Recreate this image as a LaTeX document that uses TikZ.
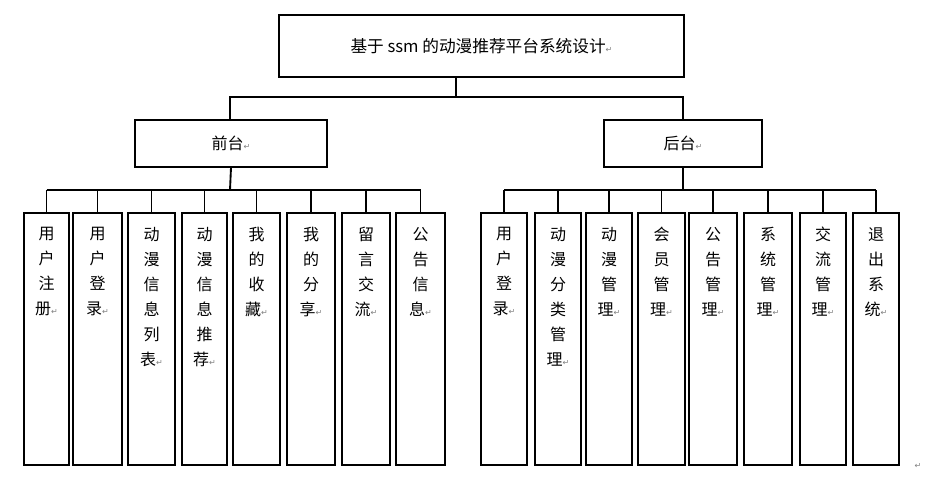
\documentclass[tikz,border=0pt]{standalone}
\usepackage{fontspec}
\setmainfont{Noto Sans CJK SC}
\newfontfamily\symf{DejaVu Sans}
\newcommand{\parmark}{{\symf\fontsize{6}{6}\selectfont\textcolor{gray}{↵}}}
\begin{document}
\begin{tikzpicture}[x=0.75pt,y=-0.75pt,
  box/.style={draw,line width=0.8pt,inner sep=0},
  leaftext/.style={anchor=north,align=center,font=\fontsize{12}{18.75}\selectfont,inner sep=0},
  link/.style={line width=0.8pt}]
\useasboundingbox (0,0) rectangle (948,486);
\fill[white] (0,0) rectangle (948,486);
\node[box,minimum width=405*0.75pt,minimum height=62*0.75pt] (root) at (481.5,46) {\fontsize{12.5}{14}\selectfont 基于 ssm 的动漫推荐平台系统设计\parmark};
\node[box,minimum width=192*0.75pt,minimum height=47*0.75pt] (fe) at (231,143.5) {\fontsize{12}{14}\selectfont 前台\parmark};
\node[box,minimum width=158*0.75pt,minimum height=47*0.75pt] (be) at (683,143.5) {\fontsize{12}{14}\selectfont 后台\parmark};
\coordinate (rs) at (456,77);
\draw[link] (rs) -- (456,97) -- (230,97) -- (230,120);
\draw[link] (456,97) -- (683,97) -- (683,120);
\foreach \i/\a/\b/\t in {1/24/69/用\\户\\注\\册\parmark, 2/73/122/用\\户\\登\\录\parmark, 3/128/175/动\\漫\\信\\息\\列\\表\parmark, 4/182/227/动\\漫\\信\\息\\推\\荐\parmark, 5/233/280/我\\的\\收\\藏\parmark, 6/287/335/我\\的\\分\\享\parmark, 7/342/390/留\\言\\交\\流\parmark, 8/396/445/公\\告\\信\\息\parmark}{
  \draw[line width=0.8pt] (\a,213) rectangle (\b,465);
  \node[leaftext] (fl\i) at ({(\a+\b)/2},227) {\t};
  \draw[link] ({(\a+\b)/2},190) -- ({(\a+\b)/2},213);
}
\draw[line width=1.4pt] (fe.south) -- (230,190);
\draw[line width=1.4pt] (46.5,190) -- (420.5,190);
\foreach \i/\a/\b/\t in {1/481/527/用\\户\\登\\录\parmark, 2/535/581/动\\漫\\分\\类\\管\\理\parmark, 3/586/632/动\\漫\\管\\理\parmark, 4/638/685/会\\员\\管\\理\parmark, 5/689/737/公\\告\\管\\理\parmark, 6/744/792/系\\统\\管\\理\parmark, 7/800/846/交\\流\\管\\理\parmark, 8/853/899/退\\出\\系\\统\parmark}{
  \draw[line width=0.8pt] (\a,213) rectangle (\b,465);
  \node[leaftext] (bl\i) at ({(\a+\b)/2},227) {\t};
  \draw[link] ({(\a+\b)/2},190) -- ({(\a+\b)/2},213);
}
\draw[line width=1.4pt] (be.south) -- (683,190);
\draw[line width=1.4pt] (504,190) -- (876,190);
\node (pm) at (918,466) {\parmark};
\end{tikzpicture}
\end{document}
